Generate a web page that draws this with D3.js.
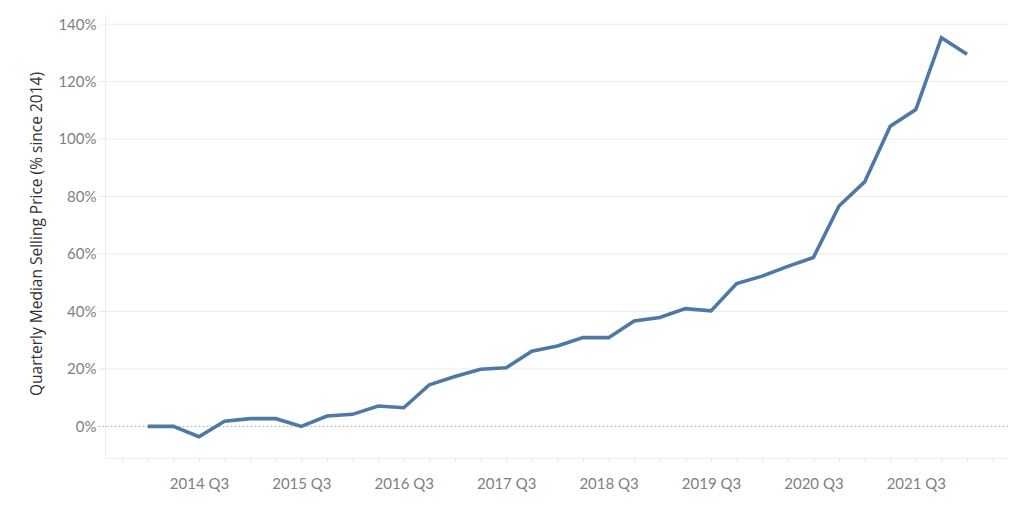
<!DOCTYPE html>
<html>
<head>
<meta charset="utf-8">
<script src="https://cdn.jsdelivr.net/npm/d3@7"></script>
<style>
  html, body { margin: 0; padding: 0; background: #fff; }
  svg { display: block; }
</style>
</head>
<body>
<svg id="chart" width="1024" height="512"></svg>
<script>
// ---- data ----
const quarters = [
  "2014 Q1","2014 Q2","2014 Q3","2014 Q4",
  "2015 Q1","2015 Q2","2015 Q3","2015 Q4",
  "2016 Q1","2016 Q2","2016 Q3","2016 Q4",
  "2017 Q1","2017 Q2","2017 Q3","2017 Q4",
  "2018 Q1","2018 Q2","2018 Q3","2018 Q4",
  "2019 Q1","2019 Q2","2019 Q3","2019 Q4",
  "2020 Q1","2020 Q2","2020 Q3","2020 Q4",
  "2021 Q1","2021 Q2","2021 Q3","2021 Q4",
  "2022 Q1"
];
const pctChange = [
  0, 0, -3.6, 1.8,
  2.7, 2.7, 0, 3.6,
  4.2, 7.1, 6.5, 14.5,
  17.4, 19.9, 20.4, 26.2,
  28.0, 30.9, 30.9, 36.7,
  37.9, 41.0, 40.2, 49.7,
  52.3, 55.7, 58.8, 76.7,
  85.1, 104.5, 110.3, 135.3,
  129.5
];
const xTickLabels = ["2014 Q3","2015 Q3","2016 Q3","2017 Q3","2018 Q3","2019 Q3","2020 Q3","2021 Q3"];
const yTicks = [0, 20, 40, 60, 80, 100, 120, 140];
const yTitle = "Quarterly Median Selling Price (% since 2014)";

// ---- layout ----
const svg = d3.select("#chart");
const plot = { left: 105.5, right: 1008, top: 15, bottom: 458.3 };

const x = d3.scaleLinear().domain([-1.65, 33.6]).range([plot.left, plot.right]);
const y = d3.scaleLinear().domain([-11.1, 143.2]).range([plot.bottom, plot.top]);

const labelFont = "Lato, 'Open Sans', sans-serif";
const tickColor = "#808080";

// gridlines
svg.append("g")
  .selectAll("line")
  .data(yTicks.filter(d => d !== 0))
  .join("line")
  .attr("x1", plot.left - 7).attr("x2", plot.right)
  .attr("y1", d => y(d)).attr("y2", d => y(d))
  .attr("stroke", "#ececec").attr("stroke-width", 1);

// axis borders
svg.append("line")
  .attr("x1", plot.left).attr("x2", plot.left)
  .attr("y1", plot.top).attr("y2", plot.bottom)
  .attr("stroke", "#ececec");
svg.append("line")
  .attr("x1", plot.left).attr("x2", plot.right)
  .attr("y1", plot.bottom).attr("y2", plot.bottom)
  .attr("stroke", "#ececec");

// zero line (dotted)
svg.append("line")
  .attr("x1", plot.left - 7).attr("x2", plot.right)
  .attr("y1", y(0)).attr("y2", y(0))
  .attr("stroke", "#b5b5b5").attr("stroke-width", 1)
  .attr("stroke-dasharray", "2,2");

// y axis labels
const yAxis = d3.axisLeft(y).tickValues(yTicks).tickSize(0).tickPadding(0)
  .tickFormat(d => d + "%");
const gy = svg.append("g").attr("transform", `translate(${plot.left - 9},0)`).call(yAxis);
gy.select(".domain").remove();
gy.selectAll("text")
  .attr("fill", tickColor)
  .style("font-family", labelFont)
  .style("font-size", "15px");

// x axis: quarterly minor ticks
const allTickIdx = d3.range(-1, quarters.length + 1);
const xMinor = d3.axisBottom(x).tickValues(allTickIdx).tickSize(4).tickFormat("");
const gxm = svg.append("g").attr("transform", `translate(0,${plot.bottom})`).call(xMinor);
gxm.select(".domain").remove();
gxm.selectAll("line").attr("stroke", "#e6e6e6");

// x axis labels at Q3
const labelIdx = xTickLabels.map(l => quarters.indexOf(l));
const xLab = d3.axisBottom(x).tickValues(labelIdx).tickSize(0).tickPadding(20)
  .tickFormat(i => quarters[i]);
const gx = svg.append("g").attr("transform", `translate(0,${plot.bottom})`).call(xLab);
gx.select(".domain").remove();
gx.selectAll("text")
  .attr("fill", tickColor)
  .style("font-family", labelFont)
  .style("font-size", "15px");

// y title
svg.append("text")
  .attr("transform", `translate(42,234) rotate(-90)`)
  .attr("text-anchor", "middle")
  .attr("fill", "#333")
  .style("font-family", "'Open Sans', sans-serif")
  .style("font-size", "15.5px")
  .text(yTitle);

// line
const line = d3.line().x((d, i) => x(i)).y(d => y(d));
svg.append("path")
  .datum(pctChange)
  .attr("d", line)
  .attr("fill", "none")
  .attr("stroke", "#4e79a7")
  .attr("stroke-width", 3.6)
  .attr("stroke-linejoin", "miter");
</script>
</body>
</html>
